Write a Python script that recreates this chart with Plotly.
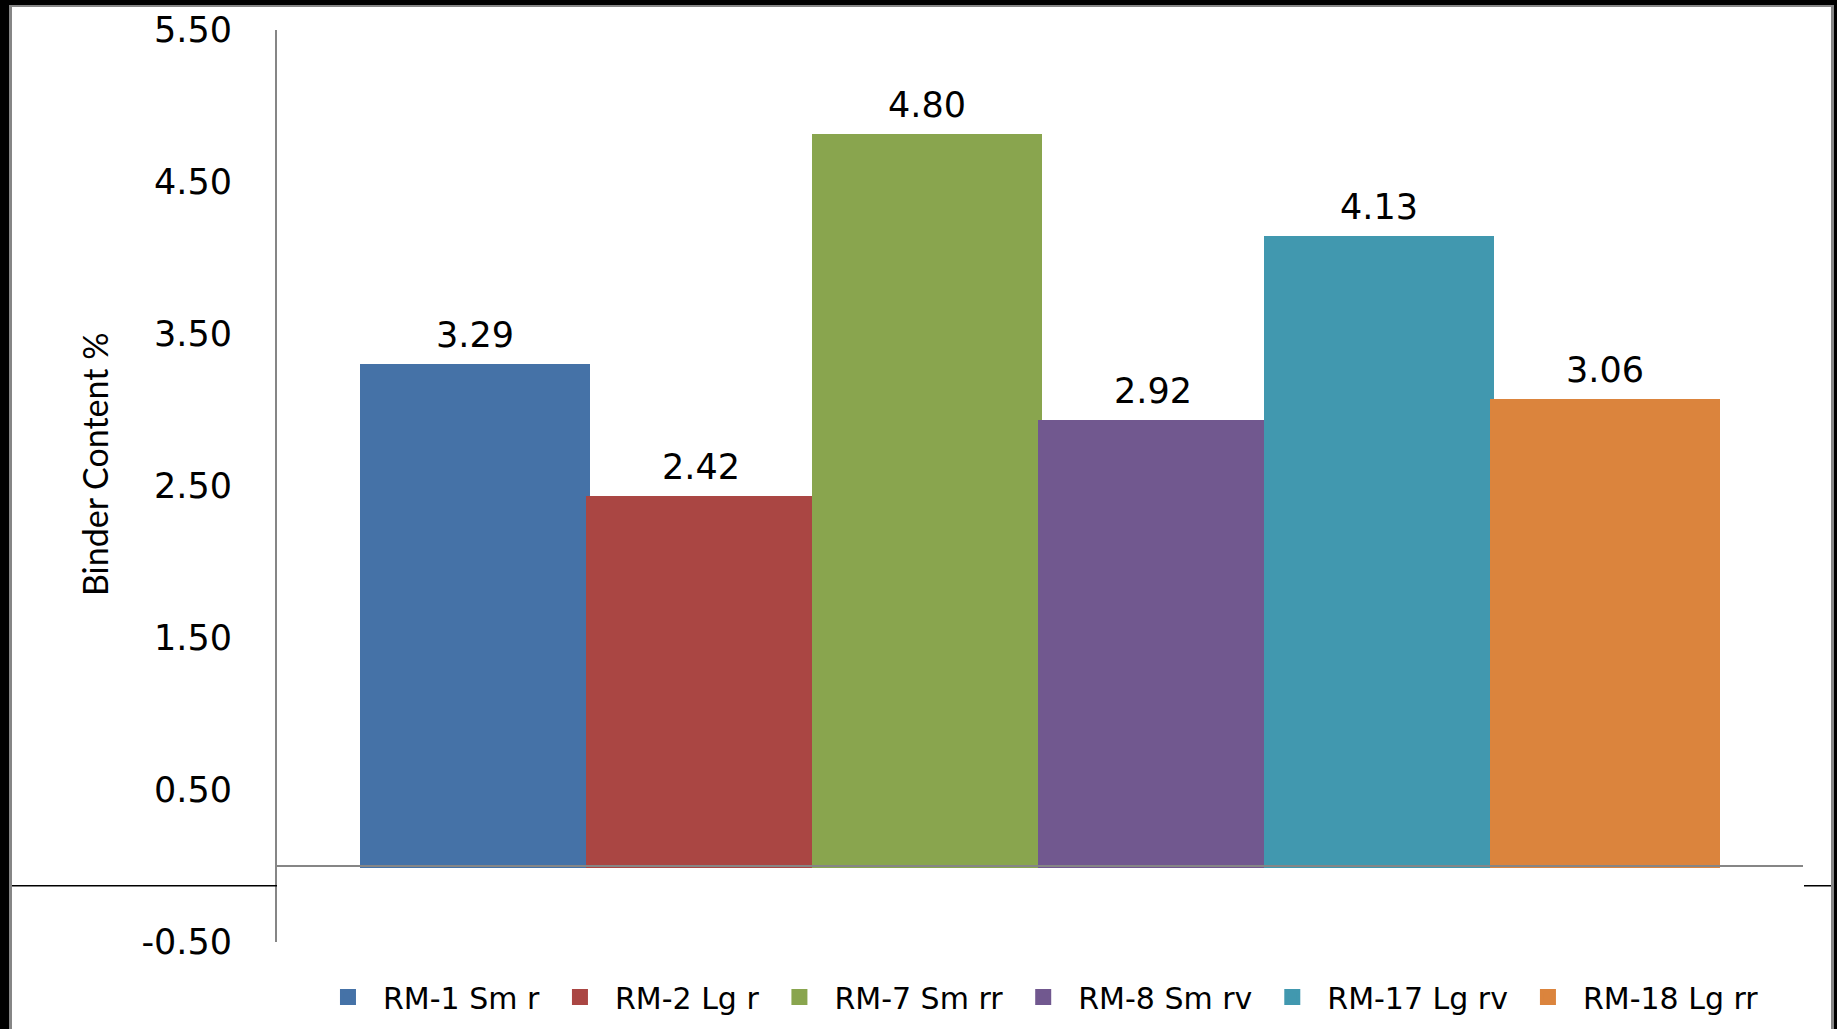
import plotly.graph_objects as go

# Binder content by reclaimed-material sample
series = ["RM-1 Sm r", "RM-2 Lg r", "RM-7 Sm rr", "RM-8 Sm rv", "RM-17 Lg rv", "RM-18 Lg rr"]
binder = [3.29, 2.42, 4.80, 2.92, 4.13, 3.06]
colors = ["#4572A7", "#AA4643", "#89A54E", "#71588F", "#4198AF", "#DB843D"]
y_ticks = [-0.5, 0.5, 1.5, 2.5, 3.5, 4.5, 5.5]
y_title = "Binder Content %"

W, H = 1837, 1029
ML, MR, MT, MB = 277, 34, 30, 87
PW, PH = W - ML - MR, H - MT - MB
Y_RANGE = [-0.5, 5.5]
X_RANGE = [-0.876, len(series) - 1 + 0.876]
NUM_FONT = dict(family="DejaVu Sans", size=35, color="#000000")


def px_x(px):
    return (px - ML) / PW


def px_y(py):
    return (H - MB - py) / PH


fig = go.Figure()
for i, (name, val, col) in enumerate(zip(series, binder, colors)):
    fig.add_trace(go.Bar(
        x=[i], y=[val], name=name,
        marker=dict(color=col, line=dict(color=col, width=4)),
        hoverinfo="name+y",
    ))
    fig.add_annotation(
        x=i, y=val, text=f"{val:.2f}", showarrow=False,
        yanchor="middle", yshift=31, font=NUM_FONT,
    )

# vertical axis title
fig.add_annotation(
    xref="paper", yref="paper", x=px_x(94), y=px_y(465),
    xanchor="center", yanchor="middle", textangle=-90, showarrow=False,
    text=y_title, font=dict(family="Lato", size=34, color="#000000"),
)

# outer frame: black edges with a thin grey inner rule
frame = [
    (0, 0, W, 5, "#000000"),
    (0, 0, 9, H, "#000000"),
    (W - 3, 0, W, H, "#000000"),
    (9, 5, W - 3, 7, "#868686"),
    (9, 5, 12, H, "#868686"),
    (W - 6, 5, W - 3, H, "#868686"),
]
for x0, y0, x1, y1, c in frame:
    fig.add_shape(type="rect", xref="paper", yref="paper",
                  x0=px_x(x0), x1=px_x(x1), y0=px_y(y0), y1=px_y(y1),
                  fillcolor=c, line=dict(width=0), layer="above")

# short black rules on either side of the plot area just below zero
rule_val = -0.13
ry = (rule_val - Y_RANGE[0]) / (Y_RANGE[1] - Y_RANGE[0])
for x0, x1 in [(px_x(12), 0), (1 + 1 / PW, px_x(W - 6))]:
    fig.add_shape(type="line", xref="paper", yref="paper",
                  x0=x0, x1=x1, y0=ry, y1=ry,
                  line=dict(color="#000000", width=1.5))

fig.update_layout(
    width=W, height=H,
    margin=dict(l=ML, r=MR, t=MT, b=MB, autoexpand=False),
    paper_bgcolor="#FFFFFF", plot_bgcolor="#FFFFFF",
    barmode="overlay", bargap=0,
    showlegend=True,
    legend=dict(
        orientation="h", x=0.499, xanchor="center",
        y=px_y(997), yanchor="middle", itemwidth=60,
        font=dict(family="DejaVu Sans", size=30, color="#000000"),
        bgcolor="rgba(0,0,0,0)",
    ),
    # category axis drawn as the baseline at zero
    xaxis=dict(
        range=X_RANGE, showgrid=False, zeroline=False,
        showline=True, linecolor="#868686", linewidth=2,
        anchor="free", position=(0 - Y_RANGE[0]) / (Y_RANGE[1] - Y_RANGE[0]),
        layer="above traces",
        showticklabels=False, ticks="", fixedrange=True,
    ),
    yaxis=dict(
        range=Y_RANGE, tickvals=y_ticks,
        ticktext=[f"{v:.2f}" for v in y_ticks],
        showgrid=False, showline=True, linecolor="#868686", linewidth=2,
        zeroline=False, ticks="", ticklabelstandoff=36,
        layer="above traces",
        tickfont=NUM_FONT,
    ),
)

fig.write_html("out.html")
